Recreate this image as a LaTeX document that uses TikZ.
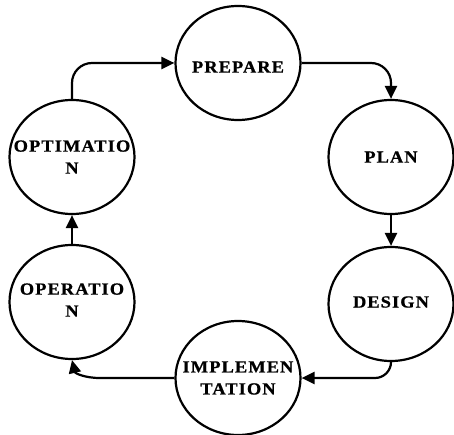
\documentclass[tikz,border=0pt]{standalone}
\usepackage{fontspec}
\setmainfont{Liberation Serif}
\newfontfamily\labfont[LetterSpace=6,BoldFeatures={FakeBold=0.8}]{Liberation Serif}
\usetikzlibrary{shapes.geometric,arrows.meta}
\begin{document}
\begin{tikzpicture}[x=1pt,y=-1pt,
  stage/.style={draw=black,line width=2.2pt,ellipse,inner sep=0pt,
    minimum width=125pt,minimum height=114pt},
  lab/.style={inner sep=0pt,align=center,xscale=1.08,transform shape,
    font=\labfont\bfseries\fontsize{17}{22}\selectfont},
  flow/.style={line width=2.2pt,-{Triangle[length=13pt,width=12pt]}},
  ]
\useasboundingbox (0,0) rectangle (454,435);
\node[stage] (prep) at (238,63) {};
\node[stage] (plan) at (391,157) {};
\node[stage] (des) at (391,304) {};
\node[stage] (impl) at (238,378) {};
\node[stage] (op) at (72,302) {};
\node[stage] (opt) at (72,157) {};
\node[lab] (tprep) at (238,67) {PREPARE};
\node[lab] (tplan) at (391,157) {PLAN};
\node[lab] (tdes) at (391,302) {DESIGN};
\node[lab] (timpl) at (238,378) {IMPLEMEN\\TATION};
\node[lab] (top) at (72,300) {OPERATIO\\N};
\node[lab] (topt) at (72,157) {OPTIMATIO\\N};
\draw[flow,rounded corners=20pt] (opt.north) |- (prep.west);
\draw[flow,rounded corners=20pt] (prep.east) -| (plan.north);
\draw[flow] (plan.south) -- (des.north);
\draw[flow,rounded corners=16pt] (des.south) |- (impl.east);
\coordinate (bend) at (100,378);
\draw[flow] (impl.west) -- (bend) .. controls (84,378) and (75,373) .. (op.south);
\draw[flow] (op.north) -- (opt.south);
\end{tikzpicture}
\end{document}
